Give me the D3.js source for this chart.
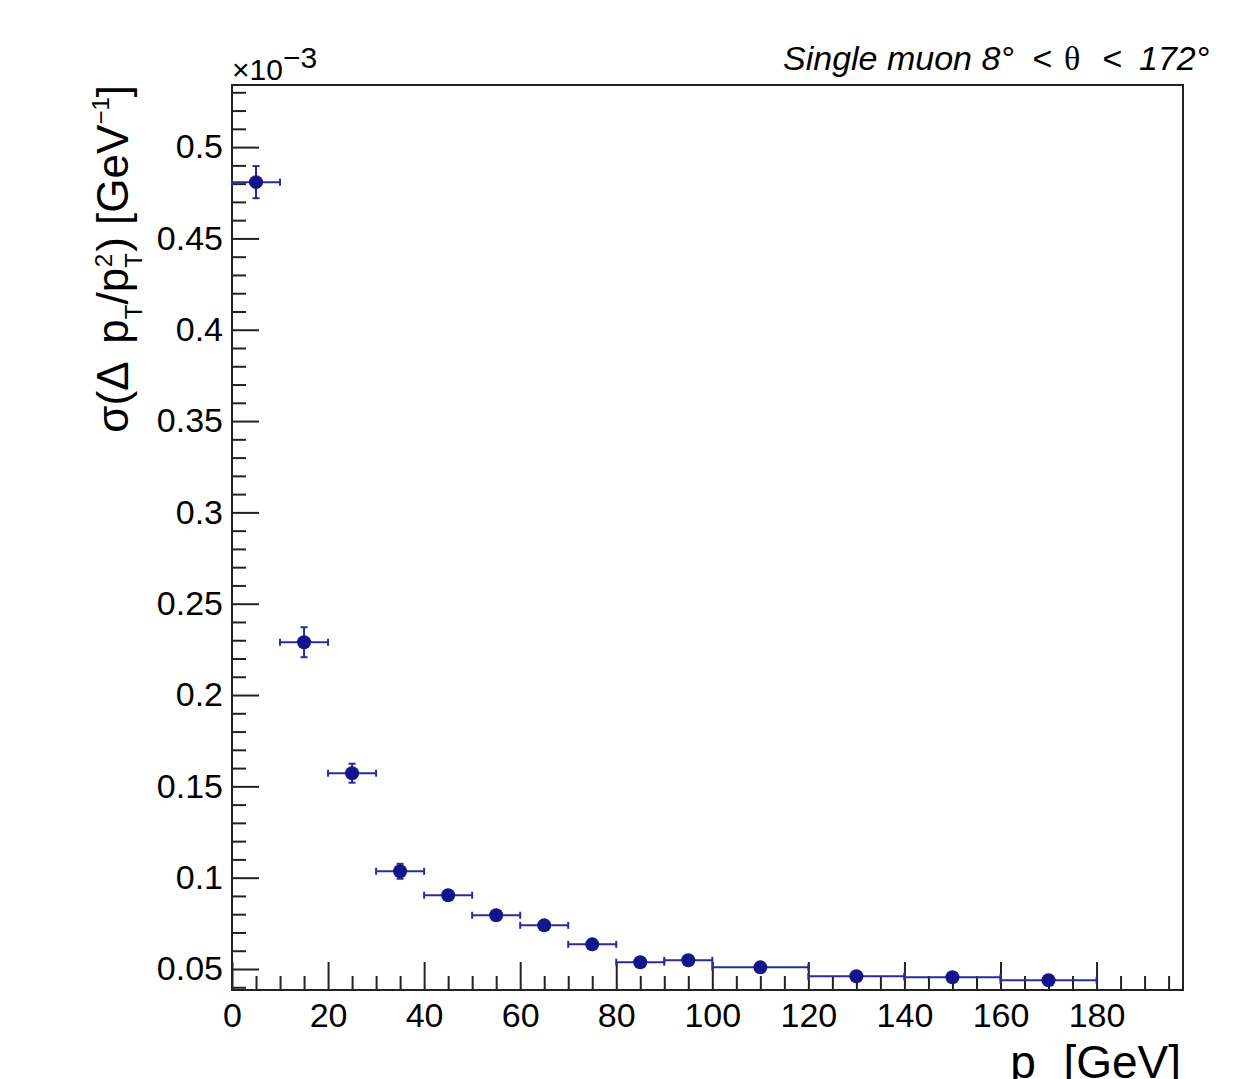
<!DOCTYPE html>
<html>
<head>
<meta charset="utf-8">
<script src="https://cdn.jsdelivr.net/npm/d3@7"></script>
<style>
  body { margin: 0; background: #fff; }
  svg { display: block; }
  text { font-family: "Liberation Sans", Arial, Helvetica, sans-serif; fill: #000; }
</style>
</head>
<body>
<div id="chart"></div>
<script>
// bins of p_T (GeV) and measured resolution (x 1e-3 GeV^-1)
const binLow  = [0, 10, 20, 30, 40, 50, 60, 70, 80, 90, 100, 120, 140, 160];
const binHigh = [10, 20, 30, 40, 50, 60, 70, 80, 90, 100, 120, 140, 160, 180];
const sigma    = [0.4808, 0.2289, 0.1572, 0.1035, 0.0904, 0.0794, 0.0739, 0.0635, 0.0537, 0.0548, 0.0509, 0.0460, 0.0455, 0.0438];
const sigmaErr = [0.0088, 0.0082, 0.0052, 0.0041, 0.0025, 0.0022, 0.0020, 0.0018, 0.0015, 0.0015, 0.0012, 0.0010, 0.0010, 0.0010];

const xTickLabels = [0, 20, 40, 60, 80, 100, 120, 140, 160, 180];
const yTickLabels = [0.05, 0.1, 0.15, 0.2, 0.25, 0.3, 0.35, 0.4, 0.45, 0.5];

const width = 1255;
const height = 1079;
const frame = { left: 232, right: 1183, top: 85, bottom: 990 };

const markerColor = "#14148c";
const barColor = "#2a2a9c";

const svg = d3.select("#chart").append("svg")
    .attr("width", width)
    .attr("height", height);

const x = d3.scaleLinear().domain([0, 198]).range([frame.left, frame.right]);
const y = d3.scaleLinear().domain([0.0385, 0.534]).range([frame.bottom, frame.top]);

// minor tick positions
const xMinor = d3.range(0, 199, 5).filter(v => v % 20 !== 0);
const yMinor = d3.range(4, 54).map(v => v / 100).filter(v => Math.round(v * 100) % 5 !== 0);

// x axis (ticks point inward)
svg.append("g")
    .attr("transform", `translate(0,${frame.bottom})`)
    .call(d3.axisBottom(x).tickValues(xMinor).tickSize(-14).tickFormat(""))
    .call(g => g.select(".domain").remove());

svg.append("g")
    .attr("class", "x-major")
    .attr("transform", `translate(0,${frame.bottom})`)
    .call(d3.axisBottom(x).tickValues(xTickLabels).tickSize(-28).tickPadding(13).tickFormat(d => d))
    .call(g => g.select(".domain").remove());

// y axis
svg.append("g")
    .attr("transform", `translate(${frame.left},0)`)
    .call(d3.axisLeft(y).tickValues(yMinor).tickSize(-14).tickFormat(""))
    .call(g => g.select(".domain").remove());

svg.append("g")
    .attr("class", "y-major")
    .attr("transform", `translate(${frame.left},0)`)
    .call(d3.axisLeft(y).tickValues(yTickLabels).tickSize(-27).tickPadding(9).tickFormat(d => String(d)))
    .call(g => g.select(".domain").remove());

svg.selectAll(".tick line").attr("stroke", "#222").attr("stroke-width", 2);
svg.selectAll(".tick text")
    .attr("font-size", 34)
    .attr("font-family", "Liberation Sans, Arial, sans-serif")
    .attr("fill", "#000");

// frame
svg.append("rect")
    .attr("x", frame.left)
    .attr("y", frame.top)
    .attr("width", frame.right - frame.left)
    .attr("height", frame.bottom - frame.top)
    .attr("fill", "none")
    .attr("stroke", "#222")
    .attr("stroke-width", 2);

// data
const pts = sigma.map((v, i) => ({ lo: binLow[i], hi: binHigh[i], v: v, e: sigmaErr[i] }));
const r = 7;
const cap = 3.5;

const bars = svg.append("g")
    .attr("stroke", barColor)
    .attr("stroke-width", 2);

bars.selectAll(".hbar").data(pts).enter().append("line")
    .attr("x1", d => x(d.lo)).attr("x2", d => x(d.hi))
    .attr("y1", d => y(d.v)).attr("y2", d => y(d.v));

bars.selectAll(".hcapL").data(pts).enter().append("line")
    .attr("x1", d => x(d.lo)).attr("x2", d => x(d.lo))
    .attr("y1", d => y(d.v) - cap).attr("y2", d => y(d.v) + cap);

bars.selectAll(".hcapR").data(pts).enter().append("line")
    .attr("x1", d => x(d.hi)).attr("x2", d => x(d.hi))
    .attr("y1", d => y(d.v) - cap).attr("y2", d => y(d.v) + cap);

// vertical bars only where they stick out of the marker
const vis = pts.filter(d => y(d.v - d.e) - y(d.v) > r);
vis.forEach(d => {
    const cx = x((d.lo + d.hi) / 2);
    bars.append("line")
        .attr("x1", cx).attr("x2", cx)
        .attr("y1", y(d.v + d.e)).attr("y2", y(d.v - d.e));
    [d.v + d.e, d.v - d.e].forEach(t => {
        bars.append("line")
            .attr("x1", cx - cap).attr("x2", cx + cap)
            .attr("y1", y(t)).attr("y2", y(t));
    });
});

svg.append("g").selectAll("circle").data(pts).enter().append("circle")
    .attr("cx", d => x((d.lo + d.hi) / 2))
    .attr("cy", d => y(d.v))
    .attr("r", r)
    .attr("fill", markerColor);

// exponent multiplier
const mult = svg.append("text")
    .attr("x", frame.left)
    .attr("y", 80)
    .attr("font-size", 30);
mult.append("tspan").text("\u00d710");
mult.append("tspan").attr("dy", -12).text("\u22123");

// title
const title = svg.append("text")
    .attr("y", 70)
    .attr("font-size", 34)
    .attr("font-style", "italic");
title.append("tspan").attr("x", 783).text("Single muon 8\u00b0");
title.append("tspan").attr("x", 1032).text("<");
title.append("tspan").attr("x", 1064).attr("font-style", "normal")
    .attr("font-family", "Liberation Serif, DejaVu Serif, serif").text("\u03b8");
title.append("tspan").attr("x", 1102).text("<");
title.append("tspan").attr("x", 1139).text("172\u00b0");

// y axis title
const yt = svg.append("text")
    .attr("transform", "translate(128,85) rotate(-90)")
    .attr("text-anchor", "end")
    .attr("font-size", 44)
    .style("white-space", "pre");
yt.append("tspan").text("\u03c3(\u0394 ");
yt.append("tspan").attr("dx", 8).text("p");
yt.append("tspan").attr("font-size", 24).attr("dy", 14).text("T");
yt.append("tspan").attr("dy", -14).text("/p");
yt.append("tspan").attr("font-size", 24).attr("dy", 14).text("T");
yt.append("tspan").attr("font-size", 24).attr("dx", -14).attr("dy", -30).text("2");
yt.append("tspan").attr("dx", 2).attr("dy", 16).text(") [GeV");
yt.append("tspan").attr("font-size", 24).attr("dy", -19).text("\u22121");
yt.append("tspan").attr("dy", 19).text("]");

// x axis title (subscript falls below the picture edge, as in the original)
const xt = svg.append("text")
    .attr("x", 1181)
    .attr("y", 1078)
    .attr("text-anchor", "end")
    .attr("font-size", 46)
    .style("white-space", "pre");
xt.append("tspan").text("p");
xt.append("tspan").attr("font-size", 24).attr("dy", 20).text("T");
xt.append("tspan").attr("dy", -20).text(" [GeV]");
</script>
</body>
</html>
